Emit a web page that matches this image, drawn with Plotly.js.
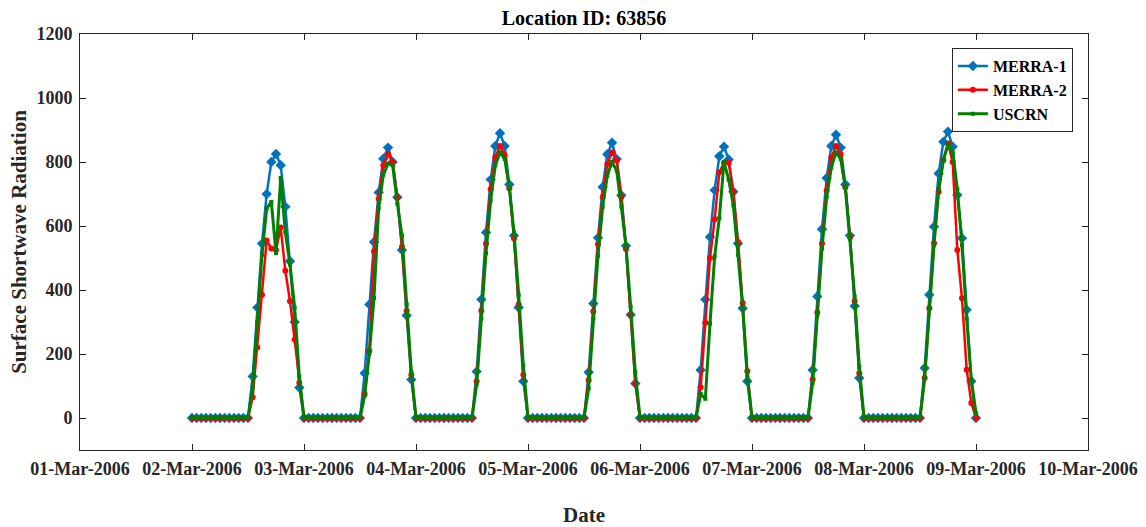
<!DOCTYPE html>
<html>
<head>
<meta charset="utf-8">
<script src="https://cdn.plot.ly/plotly-3.0.1.min.js"></script>
<style>
  html, body { margin: 0; padding: 0; background: #ffffff; }
  #chart { width: 1146px; height: 527px; }
</style>
</head>
<body>
<div id="chart"></div>
<script>
// Hourly timestamps: 02-Mar-2006 00:00 through 09-Mar-2006 00:00
const startDate = "2006-03-02T00:00:00";
const hoursCount = 169;

// Values per day, hours 00..23
const merra1Days = [
  [0,0,0,0,0,0,0,0,0,0,0,0,0, 130,345,545,700,800,825,790,660,490,300,95],
  [0,0,0,0,0,0,0,0,0,0,0,0,0, 140,355,550,705,810,845,800,690,525,320,120],
  [0,0,0,0,0,0,0,0,0,0,0,0,0, 145,370,580,745,850,890,850,730,570,345,115],
  [0,0,0,0,0,0,0,0,0,0,0,0,0, 143,358,563,722,824,860,809,696,538,323,108],
  [0,0,0,0,0,0,0,0,0,0,0,0,0, 150,370,566,712,818,848,808,707,545,343,115],
  [0,0,0,0,0,0,0,0,0,0,0,0,0, 150,380,590,750,850,885,845,730,570,350,125],
  [0,0,0,0,0,0,0,0,0,0,0,0,0, 156,385,598,764,863,895,848,697,562,338,115]
];
const merra1Last = 0;

const merra2Days = [
  [0,0,0,0,0,0,0,0,0,0,0,0,0, 65,220,385,555,530,525,595,460,365,245,110],
  [0,0,0,0,0,0,0,0,0,0,0,0,0, 75,210,520,685,790,825,800,690,535,335,135],
  [0,0,0,0,0,0,0,0,0,0,0,0,0, 115,335,545,715,815,850,822,718,561,355,135],
  [0,0,0,0,0,0,0,0,0,0,0,0,0, 118,333,543,691,794,830,805,691,528,323,108],
  [0,0,0,0,0,0,0,0,0,0,0,0,0, 96,298,500,621,768,798,798,707,550,359,146],
  [0,0,0,0,0,0,0,0,0,0,0,0,0, 120,330,545,711,814,850,824,721,565,366,140],
  [0,0,0,0,0,0,0,0,0,0,0,0,0, 125,343,546,707,806,858,800,525,374,151,47]
];
const merra2Last = 0;

const uscrnDays = [
  [0,0,0,0,0,0,0,0,0,0,0,0,0, 95,300,510,655,675,515,750,580,480,345,130],
  [0,0,0,0,0,0,0,0,0,0,0,0,0, 70,200,375,655,760,795,790,670,570,355,145],
  [0,0,0,0,0,0,0,0,0,0,0,0,0, 105,310,515,680,790,830,810,720,580,385,165],
  [0,0,0,0,0,0,0,0,0,0,0,0,0, 92,311,507,660,758,800,773,660,538,348,143],
  [0,0,0,0,0,0,0,0,0,0,0,0,0, 75,60,295,505,625,800,745,665,510,345,130],
  [0,0,0,0,0,0,0,0,0,0,0,0,0, 110,320,530,690,783,830,810,720,560,380,160],
  [0,0,0,0,0,0,0,0,0,0,0,0,0, 125,345,540,715,805,855,830,715,540,310,120]
];
const uscrnLast = 15;

const seriesNames = ["MERRA-1", "MERRA-2", "USCRN"];
const xTickStart = "2006-03-01";
const xTickEnd = "2006-03-10";

// Build time axis
const t0 = new Date(startDate + "Z").getTime();
const times = [];
for (let i = 0; i < hoursCount; i++) {
  const d = new Date(t0 + i * 3600000);
  times.push(d.toISOString().slice(0, 19).replace("T", " "));
}
function flatten(days, last) {
  const out = [];
  days.forEach(d => d.forEach(v => out.push(v)));
  out.push(last);
  return out;
}
const merra1 = flatten(merra1Days, merra1Last);
const merra2 = flatten(merra2Days, merra2Last);
const uscrn = flatten(uscrnDays, uscrnLast);

const FONT = "'Liberation Serif', 'Times New Roman', Times, serif";

const traces = [
  {
    x: times, y: merra1, name: seriesNames[0], type: "scatter", mode: "lines+markers",
    line: { color: "#0072BD", width: 2.5 },
    marker: { symbol: "diamond", size: 8, color: "#0072BD" }
  },
  {
    x: times, y: merra2, name: seriesNames[1], type: "scatter", mode: "lines+markers",
    line: { color: "#FF0000", width: 2.5 },
    marker: { symbol: "circle", size: 6, color: "#FF0000" }
  },
  {
    x: times, y: uscrn, name: seriesNames[2], type: "scatter", mode: "lines+markers",
    line: { color: "#008000", width: 3 },
    marker: { symbol: "square", size: 4, color: "#008000" }
  }
];

const layout = {
  width: 1146, height: 527,
  margin: { l: 80, r: 58, t: 34, b: 77 },
  paper_bgcolor: "#ffffff", plot_bgcolor: "#ffffff",
  font: { family: FONT, size: 18, color: "#262626", weight: "bold" },
  title: {
    text: "<b>Location ID: 63856</b>",
    font: { family: FONT, size: 20, color: "#000000" },
    x: 0.5, xanchor: "center", y: 0.966, yanchor: "middle", xref: "paper"
  },
  xaxis: {
    type: "date",
    range: [xTickStart, xTickEnd],
    tick0: xTickStart, dtick: 86400000,
    tickformat: "%d-%b-%Y",
    showgrid: false, zeroline: false,
    showline: true, linecolor: "#262626", linewidth: 1, mirror: "ticks",
    ticks: "inside", ticklen: 6, tickcolor: "#262626", tickwidth: 1,
    ticklabelstandoff: 2,
    tickfont: { family: FONT, size: 18, color: "#262626", weight: "bold" },
    title: { text: "<b>Date</b>", font: { family: FONT, size: 21, color: "#262626" }, standoff: 36 }
  },
  yaxis: {
    range: [-100, 1200],
    tick0: 0, dtick: 200,
    showgrid: false, zeroline: false,
    showline: true, linecolor: "#262626", linewidth: 1, mirror: "ticks",
    ticks: "inside", ticklen: 6, tickcolor: "#262626", tickwidth: 1,
    ticklabelstandoff: 3,
    tickfont: { family: FONT, size: 18, color: "#262626", weight: "bold" },
    title: { text: "<b>Surface Shortwave Radiation</b>", font: { family: FONT, size: 21, color: "#262626" }, standoff: 4 }
  },
  showlegend: true,
  legend: {
    x: 0.865, y: 0.966, xanchor: "left", yanchor: "top",
    bgcolor: "#ffffff", bordercolor: "#262626", borderwidth: 1,
    font: { family: FONT, size: 16, color: "#000000", weight: "bold" },
    tracegroupgap: 0, itemwidth: 30
  }
};

Plotly.newPlot("chart", traces, layout, { displayModeBar: false, staticPlot: true });
</script>
</body>
</html>
